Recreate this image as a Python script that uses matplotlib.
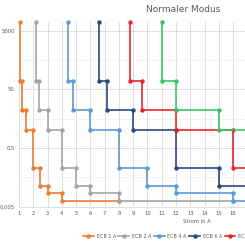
import matplotlib
matplotlib.use("Agg")
import matplotlib.pyplot as plt
from matplotlib.lines import Line2D

# Auslösekennlinien (Strom in A, Zeit in s)
times = [10000, 100, 100, 10, 10, 2, 2, 0.1, 0.1, 0.025, 0.025, 0.015, 0.015, 0.008, 0.008]
ecb_1 = [1.1, 1.1, 1.2, 1.2, 1.5, 1.5, 2, 2, 2.5, 2.5, 3, 3, 4, 4, 8]
ecb_2 = [2.2, 2.2, 2.4, 2.4, 3, 3, 4, 4, 5, 5, 6, 6, 8, 8, 16]
ecb_4 = [4.4, 4.4, 4.8, 4.8, 6, 6, 8, 8, 10, 10, 12, 12, 16, 16, 32]
ecb_6 = [6.6, 6.6, 7.2, 7.2, 9, 9, 12, 12, 15, 15, 18, 18, 24, 24, 48]
ecb_8 = [8.8, 8.8, 9.6, 9.6, 12, 12, 16, 16, 20, 20, 24, 24, 32, 32, 64]
ecb_10 = [11, 11, 12, 12, 15, 15, 20, 20, 25, 25, 30, 30, 40, 40, 80]

series = [ecb_1, ecb_2, ecb_4, ecb_6, ecb_8, ecb_10]
labels = ["ECB 1 A", "ECB 2 A", "ECB 4 A", "ECB 6 A", "ECB 8 A", "ECB 10 A"]
colors = ["#ED7D31", "#A5A5A5", "#5B9BD5", "#2B4A80", "#E8262B", "#3CC46B"]

y_ticks = [0.005, 0.5, 50, 5000]
y_labels = ["0,005", "0,5", "50", "5000"]
x_ticks = list(range(1, 17))

W, H = 245, 241
fig = plt.figure(figsize=(W / 100, H / 100), dpi=100)
ax = fig.add_axes([19 / W, (H - 206.5) / H, 1 - 19 / W, (206.5 - 22) / H])

for xs, lab, col in zip(series, labels, colors):
    ax.plot(xs, times, color=col, lw=1.2, marker="o", ms=2.2, label=lab,
            clip_on=False, zorder=3)

ax.set_yscale("log")
ax.set_ylim(0.005, 10000)
ax.set_xlim(1, 1 + (W - 19) / 14.27)

ax.set_yticks(y_ticks)
ax.set_yticklabels(y_labels)
ax.set_yticks([0.05, 5, 500], minor=True)
ax.yaxis.set_minor_formatter(plt.NullFormatter())
ax.set_xticks(x_ticks)

ax.grid(True, which="major", color="#D9D9D9", lw=0.6)
ax.grid(True, which="minor", color="#EFEFEF", lw=0.5)
ax.set_axisbelow(True)

for s in ["top", "right", "left"]:
    ax.spines[s].set_visible(False)
ax.spines["bottom"].set_color("#D9D9D9")
ax.spines["bottom"].set_linewidth(0.6)
ax.tick_params(which="both", length=0, labelsize=3.8, labelcolor="#595959", pad=3)

fig.text(183 / W, 1 - 10 / H, "Normaler Modus", ha="center", va="center",
         fontsize=6.5, color="#595959")
fig.text(197 / W, 1 - 221.5 / H, "Strom in A", ha="center", va="center",
         fontsize=3.8, color="#595959")

handles = [Line2D([], [], color=c, lw=1.2, marker="o", ms=2.2) for c in colors]
fig.legend(handles, labels, ncol=6, loc="center left",
           bbox_to_anchor=(83 / W, 1 - 236.7 / H), frameon=False,
           fontsize=3.5, labelcolor="#595959", handlelength=2.2,
           handletextpad=0.6, columnspacing=0.5, borderpad=0, borderaxespad=0)

fig.savefig("out.png", dpi=100)
